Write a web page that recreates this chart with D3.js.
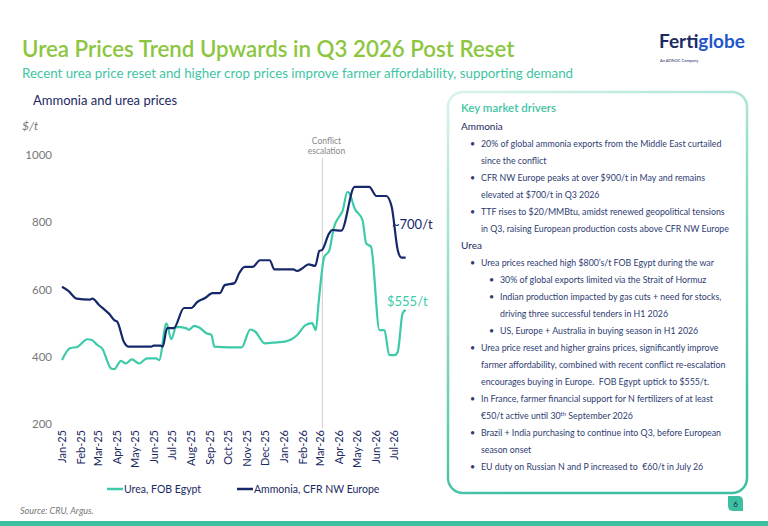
<!DOCTYPE html>
<html lang="en">
<head>
<meta charset="utf-8">
<title>Urea Prices Trend Upwards</title>
<script src="https://d3js.org/d3.v7.min.js"></script>
<style>
  body { margin: 0; background: #fff; }
  text { font-family: Lato, "Open Sans", sans-serif; }
  .title { font-size: 22.3px; font-weight: 600; fill: #8cc63f; }
  .subtitle { font-size: 13.3px; fill: #3fc4a4; }
  .charttitle { font-size: 13px; fill: #1b2a63; }
  .tick text { font-size: 11px; }
  .panel-text { font-size: 8.8px; fill: #2e3c72; }
  .panel-head { font-size: 11.5px; fill: #3fc4a4; font-weight: 600; }
  .panel-sub { font-size: 10px; fill: #1b2a63; }
</style>
</head>
<body>
<div id="vis"></div>
<script>
const width = 768, height = 526;
const navy = "#15286a", teal = "#3ccaa9";

// Weekly-ish price points ($/t)
const ammoniaDates = ["2025-01-01","2025-01-12","2025-01-25","2025-02-16","2025-02-20","2025-03-03","2025-03-12","2025-03-19","2025-03-28","2025-04-02","2025-04-13","2025-04-21","2025-05-28","2025-06-01","2025-06-12","2025-06-16","2025-06-23","2025-07-04","2025-07-21","2025-08-02","2025-08-12","2025-08-24","2025-09-06","2025-09-18","2025-09-26","2025-10-12","2025-10-20","2025-10-29","2025-11-11","2025-11-23","2025-12-09","2025-12-17","2026-01-17","2026-01-23","2026-02-01","2026-02-11","2026-02-22","2026-03-01","2026-03-05","2026-03-17","2026-03-22","2026-04-06","2026-04-28","2026-05-22","2026-06-03","2026-06-19","2026-06-28","2026-07-08","2026-07-14","2026-07-21"];
const ammoniaPrices = [608,595,573,570,573,554,540,529,509,504,444,430,430,433,433,430,485,485,545,545,563,574,589,589,613,619,649,667,667,687,687,660,660,655,663,675,670,715,717,767,777,775,905,905,878,878,846,717,695,695];

const ureaDates = ["2025-01-01","2025-01-14","2025-01-27","2025-02-12","2025-02-19","2025-02-28","2025-03-08","2025-03-23","2025-03-28","2025-04-08","2025-04-16","2025-04-26","2025-05-08","2025-05-21","2025-06-05","2025-06-10","2025-06-22","2025-06-30","2025-07-08","2025-07-24","2025-07-29","2025-08-07","2025-08-15","2025-08-27","2025-09-04","2025-09-09","2025-10-04","2025-10-24","2025-11-07","2025-11-15","2025-12-01","2025-12-21","2026-01-03","2026-01-23","2026-02-06","2026-02-17","2026-02-23","2026-02-28","2026-03-09","2026-03-17","2026-03-25","2026-04-03","2026-04-08","2026-04-16","2026-04-19","2026-04-28","2026-05-11","2026-05-17","2026-05-25","2026-06-08","2026-06-16","2026-06-24","2026-07-03","2026-07-08","2026-07-16","2026-07-21"];
const ureaPrices = [390,425,430,452,450,435,425,365,363,388,380,392,380,395,395,390,499,452,489,485,480,492,487,470,465,430,428,428,481,475,440,443,445,464,494,500,479,568,697,715,786,818,833,890,887,841,806,737,727,479,479,405,405,415,529,539];

const yTicks = [200, 400, 600, 800, 1000];
const conflictDate = "2026-03-06";
const legendItems = [
  { label: "Urea, FOB Egypt", color: teal },
  { label: "Ammonia, CFR NW Europe", color: navy }
];

const parse = d3.timeParse("%Y-%m-%d");
const ammonia = ammoniaDates.map((d, i) => ({ date: parse(d), value: ammoniaPrices[i] }));
const urea = ureaDates.map((d, i) => ({ date: parse(d), value: ureaPrices[i] }));

const svg = d3.select("#vis").append("svg")
  .attr("width", width).attr("height", height);

// header
svg.append("text").attr("class", "title").attr("x", 22).attr("y", 57)
  .text("Urea Prices Trend Upwards in Q3 2026 Post Reset");
svg.append("text").attr("class", "subtitle").attr("x", 22).attr("y", 78)
  .text("Recent urea price reset and higher crop prices improve farmer affordability, supporting demand");

// logo
const logo = svg.append("text").attr("x", 659).attr("y", 48)
  .style("font-size", "19px").style("font-weight", 700);
logo.append("tspan").attr("fill", "#1b2a63").text("Fert");
logo.append("tspan").attr("fill", "#2356c9").text("iglobe");
svg.append("text").attr("x", 660).attr("y", 62).style("font-size", "4px").attr("fill", "#1b2a63")
  .text("An ADNOC Company");

svg.append("text").attr("class", "charttitle").attr("x", 33).attr("y", 105)
  .text("Ammonia and urea prices");
svg.append("text").attr("x", 22).attr("y", 130).attr("fill", "#777")
  .style("font-size", "12px").style("font-style", "italic").text("$/t");

// scales
const x = d3.scaleTime()
  .domain([parse("2025-01-01"), parse("2026-07-01")])
  .range([62, 393.5]);
const y = d3.scaleLinear().domain([200, 1000]).range([424, 155]);

// y axis (labels only)
const yAxis = svg.append("g").attr("transform", "translate(52,0)")
  .call(d3.axisLeft(y).tickValues(yTicks).tickFormat(d3.format("d")).tickSize(0).tickPadding(0));
yAxis.select(".domain").remove();
yAxis.selectAll("text").attr("fill", "#777").style("font-size", "11.5px");

// x axis (rotated month labels)
const xAxis = svg.append("g").attr("transform", "translate(0,430)")
  .call(d3.axisBottom(x).ticks(d3.timeMonth.every(1)).tickFormat(d3.timeFormat("%b-%y")).tickSize(0));
xAxis.select(".domain").remove();
xAxis.selectAll("text")
  .attr("transform", "rotate(-90)")
  .attr("text-anchor", "end")
  .attr("x", 0).attr("y", 0).attr("dy", "0.35em")
  .attr("fill", "#1b2a63")
  .style("font-size", "11px");

// conflict marker
svg.append("line")
  .attr("x1", x(parse(conflictDate))).attr("x2", x(parse(conflictDate)))
  .attr("y1", 158).attr("y2", 428)
  .attr("stroke", "#d4d4d4").attr("stroke-width", 1.2);
svg.append("text").attr("x", x(parse(conflictDate)) + 4).attr("y", 144)
  .attr("text-anchor", "middle").attr("fill", "#888").style("font-size", "8.5px")
  .selectAll("tspan").data(["Conflict", "escalation"]).join("tspan")
  .attr("x", x(parse(conflictDate)) + 4).attr("dy", (d, i) => i ? "1.2em" : 0).text(d => d);

// lines
const line = d3.line().x(d => x(d.date)).y(d => y(d.value)).curve(d3.curveMonotoneX);
svg.append("path").datum(urea).attr("fill", "none").attr("stroke", teal)
  .attr("stroke-width", 2.2).attr("stroke-linejoin", "round").attr("d", line);
svg.append("path").datum(ammonia).attr("fill", "none").attr("stroke", navy)
  .attr("stroke-width", 2.2).attr("stroke-linejoin", "round").attr("d", line);

// end annotations
svg.append("text").attr("x", 392).attr("y", 229).attr("fill", navy)
  .style("font-size", "13px").text("~700/t");
svg.append("text").attr("x", 387).attr("y", 306).attr("fill", teal)
  .style("font-size", "13px").text("$555/t");

// legend
const legendX = [107, 237];
const lg = svg.selectAll(".legend").data(legendItems).join("g")
  .attr("class", "legend").attr("transform", (d, i) => `translate(${legendX[i]},489)`);
lg.append("line").attr("x1", 0).attr("x2", 16).attr("stroke", d => d.color).attr("stroke-width", 2.5);
lg.append("text").attr("x", 17).attr("dy", "0.35em").attr("fill", "#1b2a63")
  .style("font-size", "10.5px").text(d => d.label);

// source + footer
svg.append("text").attr("x", 20).attr("y", 514).attr("fill", "#777")
  .style("font-size", "9px").style("font-style", "italic").text("Source: CRU, Argus.");
svg.append("rect").attr("x", 0).attr("y", 521).attr("width", width).attr("height", 5).attr("fill", "#3dbfa2");

// right panel
const defs = svg.append("defs");
const grad = defs.append("linearGradient").attr("id", "panelStroke")
  .attr("x1", 0).attr("y1", 0).attr("x2", 0.3).attr("y2", 1);
grad.append("stop").attr("offset", "0%").attr("stop-color", "#d9f3ec");
grad.append("stop").attr("offset", "100%").attr("stop-color", "#3dbfa2");
svg.append("rect").attr("x", 448).attr("y", 92).attr("width", 299).attr("height", 401)
  .attr("rx", 15).attr("fill", "#fff").attr("stroke", "url(#panelStroke)").attr("stroke-width", 2.5);

svg.append("text").attr("class", "panel-head").attr("x", 461).attr("y", 112).text("Key market drivers");

const panelLines = [
  { t: "Ammonia", kind: "sub" },
  { t: "20% of global ammonia exports from the Middle East curtailed", lvl: 1, b: true },
  { t: "since the conflict", lvl: 1 },
  { t: "CFR NW Europe peaks at over $900/t in May and remains", lvl: 1, b: true },
  { t: "elevated at $700/t in Q3 2026", lvl: 1 },
  { t: "TTF rises to $20/MMBtu, amidst renewed geopolitical tensions", lvl: 1, b: true },
  { t: "in Q3, raising European production costs above CFR NW Europe", lvl: 1 },
  { t: "Urea", kind: "sub" },
  { t: "Urea prices reached high $800\u2019s/t FOB Egypt during the war", lvl: 1, b: true },
  { t: "30% of global exports limited via the Strait of Hormuz", lvl: 2, b: true },
  { t: "Indian production impacted by gas cuts + need for stocks,", lvl: 2, b: true },
  { t: "driving three successful tenders in H1 2026", lvl: 2 },
  { t: "US, Europe + Australia in buying season in H1 2026", lvl: 2, b: true },
  { t: "Urea price reset and higher grains prices, significantly improve", lvl: 1, b: true },
  { t: "farmer affordability, combined with recent conflict re-escalation", lvl: 1 },
  { t: "encourages buying in Europe.  FOB Egypt uptick to $555/t.", lvl: 1 },
  { t: "In France, farmer financial support for N fertilizers of at least", lvl: 1, b: true },
  { t: "\u20ac50/t active until 30|th| September 2026", lvl: 1 },
  { t: "Brazil + India purchasing to continue into Q3, before European", lvl: 1, b: true },
  { t: "season onset", lvl: 1 },
  { t: "EU duty on Russian N and P increased to  \u20ac60/t in July 26", lvl: 1, b: true }
];
const textX = { 0: 461, 1: 481, 2: 500 };
const bulletX = { 1: 470, 2: 489 };
panelLines.forEach((d, i) => {
  const yy = 130 + i * 17;
  if (d.kind === "sub") {
    svg.append("text").attr("class", "panel-sub").attr("x", 461).attr("y", yy).text(d.t);
    return;
  }
  if (d.b) {
    svg.append("text").attr("class", "panel-text").attr("x", bulletX[d.lvl]).attr("y", yy).text("\u2022");
  }
  const t = svg.append("text").attr("class", "panel-text").attr("x", textX[d.lvl]).attr("y", yy)
    .style("white-space", "pre");
  const parts = d.t.split("|");
  parts.forEach((p, j) => {
    const ts = t.append("tspan").text(p);
    if (j === 1) ts.attr("dy", -3).style("font-size", "6px");
    if (j === 2) ts.attr("dy", 3);
  });
});

// page number leaf
svg.append("path")
  .attr("d", "M728,496 L738,496 Q743,496 743,501 L743,511 L733,511 Q728,511 728,506 Z")
  .attr("fill", "#3dbfa2");
svg.append("text").attr("x", 735.5).attr("y", 507).attr("text-anchor", "middle")
  .attr("fill", "#1b2a63").style("font-size", "8px").text("6");
</script>
</body>
</html>
